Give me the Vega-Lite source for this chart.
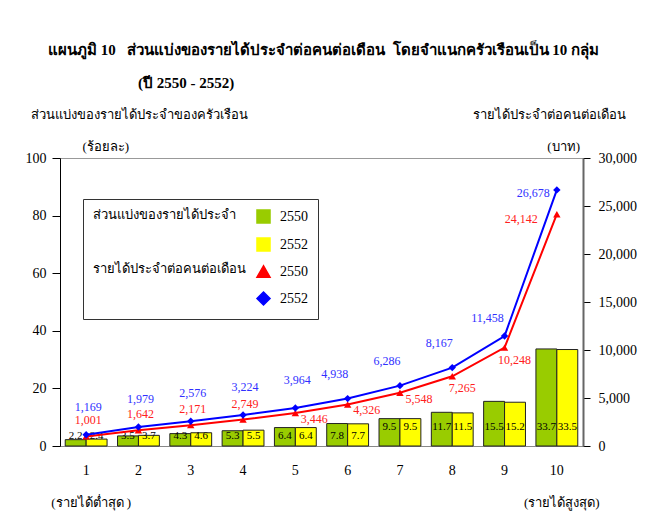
{
  "$schema": "https://vega.github.io/schema/vega-lite/v6.json",
  "autosize": {"type": "none"},
  "width": 523,
  "height": 288,
  "padding": {"left": 60, "top": 158, "right": 67, "bottom": 74},
  "background": "white",
  "config": {
    "font": "Liberation Serif",
    "view": {"stroke": "#999999", "strokeWidth": 1},
    "axis": {"labelFont": "Liberation Serif", "titleFont": "Liberation Serif", "labelColor": "black", "titleColor": "black", "labelFontSize": 14, "titleFontSize": 13, "titleFontWeight": "normal", "grid": false}
  },
  "title": {
    "text": ["แผนภูมิ 10\u00a0\u00a0\u00a0ส่วนแบ่งของรายได้ประจำต่อคนต่อเดือน\u00a0\u00a0โดยจำแนกครัวเรือนเป็น 10 กลุ่ม", "\u200b\u00a0\u00a0\u00a0\u00a0\u00a0\u00a0\u00a0\u00a0\u00a0\u00a0\u00a0\u00a0\u00a0\u00a0\u00a0\u00a0\u00a0\u00a0\u00a0\u00a0\u00a0\u00a0\u00a0\u00a0(ปี 2550 - 2552)"],
    "anchor": "start", "frame": "group", "dx": -12, "offset": 17,
    "font": "Liberation Serif", "fontSize": 15, "fontWeight": "bold", "lineHeight": 33, "color": "black"
  },
  "datasets": {
    "shares": [
      {"group": "1", "series": "s2550", "share": 2.2}, {"group": "1", "series": "s2552", "share": 2.4},
      {"group": "2", "series": "s2550", "share": 3.5}, {"group": "2", "series": "s2552", "share": 3.7},
      {"group": "3", "series": "s2550", "share": 4.3}, {"group": "3", "series": "s2552", "share": 4.6},
      {"group": "4", "series": "s2550", "share": 5.3}, {"group": "4", "series": "s2552", "share": 5.5},
      {"group": "5", "series": "s2550", "share": 6.4}, {"group": "5", "series": "s2552", "share": 6.4},
      {"group": "6", "series": "s2550", "share": 7.8}, {"group": "6", "series": "s2552", "share": 7.7},
      {"group": "7", "series": "s2550", "share": 9.5}, {"group": "7", "series": "s2552", "share": 9.5},
      {"group": "8", "series": "s2550", "share": 11.7}, {"group": "8", "series": "s2552", "share": 11.5},
      {"group": "9", "series": "s2550", "share": 15.5}, {"group": "9", "series": "s2552", "share": 15.2},
      {"group": "10", "series": "s2550", "share": 33.7}, {"group": "10", "series": "s2552", "share": 33.5}
    ],
    "incomes": [
      {"group": "1", "series": "i2550", "income": 1001}, {"group": "1", "series": "i2552", "income": 1169},
      {"group": "2", "series": "i2550", "income": 1642}, {"group": "2", "series": "i2552", "income": 1979},
      {"group": "3", "series": "i2550", "income": 2171}, {"group": "3", "series": "i2552", "income": 2576},
      {"group": "4", "series": "i2550", "income": 2749}, {"group": "4", "series": "i2552", "income": 3224},
      {"group": "5", "series": "i2550", "income": 3446}, {"group": "5", "series": "i2552", "income": 3964},
      {"group": "6", "series": "i2550", "income": 4326}, {"group": "6", "series": "i2552", "income": 4938},
      {"group": "7", "series": "i2550", "income": 5548}, {"group": "7", "series": "i2552", "income": 6286},
      {"group": "8", "series": "i2550", "income": 7265}, {"group": "8", "series": "i2552", "income": 8167},
      {"group": "9", "series": "i2550", "income": 10248}, {"group": "9", "series": "i2552", "income": 11458},
      {"group": "10", "series": "i2550", "income": 24142}, {"group": "10", "series": "i2552", "income": 26678}
    ],
    "notes": [
      {"group": "1", "note": "(รายได้ต่ำสุด )"},
      {"group": "10", "note": "(รายได้สูงสุด)"}
    ]
  },
  "layer": [
    {
      "layer": [
        {
          "data": {"name": "shares"},
          "mark": {"type": "bar", "stroke": "#222222", "strokeWidth": 1},
          "encoding": {
            "x": {"field": "group", "type": "nominal", "sort": null,
              "scale": {"domain": ["1","2","3","4","5","6","7","8","9","10"], "paddingInner": 0.2, "paddingOuter": 0.1},
              "axis": {"orient": "bottom", "title": null, "labelAngle": 0, "ticks": false, "domainColor": "#888888", "labelPadding": 17, "labelFontSize": 14}},
            "xOffset": {"field": "series", "type": "nominal", "scale": {"domain": ["s2550", "s2552"], "paddingInner": 0}},
            "y": {"field": "share", "type": "quantitative", "scale": {"domain": [0, 100]},
              "axis": {"orient": "left", "values": [0, 20, 40, 60, 80, 100], "format": ".0f", "domainColor": "black", "tickColor": "black", "tickSize": 8, "labelPadding": 6,
                "title": ["ส่วนแบ่งของรายได้ประจำของครัวเรือน", "\u200b\u00a0\u00a0\u00a0\u00a0\u00a0\u00a0\u00a0\u00a0\u00a0\u00a0\u00a0\u00a0\u00a0\u00a0\u00a0\u00a0(ร้อยละ)"],
                "titleAngle": 0, "titleAlign": "left", "titleX": -30, "titleY": -40, "titleLineHeight": 32, "titleBaseline": "alphabetic"}},
            "color": {"field": "series", "type": "nominal",
              "scale": {"domain": ["s2550", "s2552", "i2550", "i2552"], "range": ["#99CC00", "#FFFF00", "#FF0000", "#0000FF"]},
              "legend": {
                "orient": "none", "legendX": 23, "legendY": 41, "direction": "vertical",
                "title": ["ส่วนแบ่งของรายได้ประจำ", "รายได้ประจำต่อคนต่อเดือน"],
                "titleOrient": "left", "titleAnchor": "start", "titleFont": "Liberation Serif", "titleFontSize": 13, "titleFontWeight": "normal", "titleColor": "black",
                "titleLineHeight": 54, "titlePadding": 10, "titleBaseline": "top",
                "labelExpr": "slice(datum.label, 1)", "labelFont": "Liberation Serif", "labelFontSize": 14, "labelColor": "black", "labelOffset": 9,
                "symbolSize": 170, "symbolStrokeWidth": 1.5, "rowPadding": 7, "strokeColor": "#333333", "fillColor": "white", "padding": 10
              }}
          }
        },
        {
          "data": {"name": "shares"},
          "transform": [{"filter": {"field": "group", "oneOf": ["1", "2", "3", "4", "5", "6"]}}],
          "mark": {"type": "text", "fontSize": 11, "color": "black"},
          "encoding": {
            "x": {"field": "group", "type": "nominal", "sort": null},
            "xOffset": {"field": "series", "type": "nominal"},
            "y": {"datum": 3.3},
            "text": {"field": "share", "type": "quantitative", "format": ".1f"}
          }
        },
        {
          "data": {"name": "shares"},
          "transform": [{"filter": {"field": "group", "oneOf": ["7", "8", "9", "10"]}}],
          "mark": {"type": "text", "fontSize": 11, "color": "black"},
          "encoding": {
            "x": {"field": "group", "type": "nominal", "sort": null},
            "xOffset": {"field": "series", "type": "nominal"},
            "y": {"datum": 6.5},
            "text": {"field": "share", "type": "quantitative", "format": ".1f"}
          }
        },
        {
          "data": {"name": "notes"},
          "mark": {"type": "text", "fontSize": 13, "color": "black", "dx": 5, "dy": 2},
          "encoding": {
            "x": {"field": "group", "type": "nominal", "sort": null},
            "y": {"datum": -19},
            "text": {"field": "note", "type": "nominal"}
          }
        }
      ]
    },
    {
      "layer": [
        {
          "data": {"name": "incomes"},
          "mark": {"type": "line", "strokeWidth": 2},
          "encoding": {
            "x": {"field": "group", "type": "nominal", "sort": null},
            "y": {"field": "income", "type": "quantitative", "scale": {"domain": [0, 30000]},
              "axis": {"orient": "right", "values": [0, 5000, 10000, 15000, 20000, 25000, 30000], "format": ",.0f", "domainColor": "#666666", "domainWidth": 2, "tickColor": "black", "tickSize": 7, "labelPadding": 8,
                "title": ["รายได้ประจำต่อคนต่อเดือน", "(บาท)\u00a0\u00a0\u00a0\u00a0\u00a0\u00a0\u00a0\u00a0\u00a0\u00a0\u00a0\u00a0\u00a0\u00a0\u200b"],
                "titleAngle": 0, "titleAlign": "right", "titleX": 42, "titleY": -40, "titleLineHeight": 32, "titleBaseline": "alphabetic"}},
            "color": {"field": "series", "type": "nominal"}
          }
        },
        {
          "data": {"name": "incomes"},
          "mark": {"type": "point", "filled": true, "size": 55, "opacity": 1},
          "encoding": {
            "x": {"field": "group", "type": "nominal", "sort": null},
            "y": {"field": "income", "type": "quantitative"},
            "color": {"field": "series", "type": "nominal"},
            "shape": {"field": "series", "type": "nominal", "scale": {"domain": ["s2550", "s2552", "i2550", "i2552"], "range": ["square", "square", "triangle-up", "diamond"]}}
          }
        },
        {
          "data": {"name": "incomes"},
          "transform": [{"filter": "datum.series === 'i2550' && indexof(['1','2','3','4'], datum.group) >= 0"}],
          "mark": {"type": "text", "fontSize": 12, "color": "#FF2020", "dx": 2, "dy": -16},
          "encoding": {"x": {"field": "group", "type": "nominal", "sort": null}, "y": {"field": "income", "type": "quantitative"}, "text": {"field": "income", "type": "quantitative", "format": ","}}
        },
        {
          "data": {"name": "incomes"},
          "transform": [{"filter": "datum.series === 'i2550' && indexof(['5','6','7'], datum.group) >= 0"}],
          "mark": {"type": "text", "fontSize": 12, "color": "#FF2020", "dx": 19, "dy": 6},
          "encoding": {"x": {"field": "group", "type": "nominal", "sort": null}, "y": {"field": "income", "type": "quantitative"}, "text": {"field": "income", "type": "quantitative", "format": ","}}
        },
        {
          "data": {"name": "incomes"},
          "transform": [{"filter": "datum.series === 'i2550' && indexof(['8','9'], datum.group) >= 0"}],
          "mark": {"type": "text", "fontSize": 12, "color": "#FF2020", "dx": 10, "dy": 12},
          "encoding": {"x": {"field": "group", "type": "nominal", "sort": null}, "y": {"field": "income", "type": "quantitative"}, "text": {"field": "income", "type": "quantitative", "format": ","}}
        },
        {
          "data": {"name": "incomes"},
          "transform": [{"filter": "datum.series === 'i2550' && datum.group === '10'"}],
          "mark": {"type": "text", "fontSize": 12, "color": "#FF2020", "align": "right", "dx": -19, "dy": 5},
          "encoding": {"x": {"field": "group", "type": "nominal", "sort": null}, "y": {"field": "income", "type": "quantitative"}, "text": {"field": "income", "type": "quantitative", "format": ","}}
        },
        {
          "data": {"name": "incomes"},
          "transform": [{"filter": "datum.series === 'i2552' && indexof(['1','2','3','4','5'], datum.group) >= 0"}],
          "mark": {"type": "text", "fontSize": 12, "color": "#3030FF", "dx": 2, "dy": -28},
          "encoding": {"x": {"field": "group", "type": "nominal", "sort": null}, "y": {"field": "income", "type": "quantitative"}, "text": {"field": "income", "type": "quantitative", "format": ","}}
        },
        {
          "data": {"name": "incomes"},
          "transform": [{"filter": "datum.series === 'i2552' && indexof(['6','7','8'], datum.group) >= 0"}],
          "mark": {"type": "text", "fontSize": 12, "color": "#3030FF", "dx": -13, "dy": -25},
          "encoding": {"x": {"field": "group", "type": "nominal", "sort": null}, "y": {"field": "income", "type": "quantitative"}, "text": {"field": "income", "type": "quantitative", "format": ","}}
        },
        {
          "data": {"name": "incomes"},
          "transform": [{"filter": "datum.series === 'i2552' && datum.group === '9'"}],
          "mark": {"type": "text", "fontSize": 12, "color": "#3030FF", "dx": -17, "dy": -18},
          "encoding": {"x": {"field": "group", "type": "nominal", "sort": null}, "y": {"field": "income", "type": "quantitative"}, "text": {"field": "income", "type": "quantitative", "format": ","}}
        },
        {
          "data": {"name": "incomes"},
          "transform": [{"filter": "datum.series === 'i2552' && datum.group === '10'"}],
          "mark": {"type": "text", "fontSize": 12, "color": "#3030FF", "align": "right", "dx": -7, "dy": 3},
          "encoding": {"x": {"field": "group", "type": "nominal", "sort": null}, "y": {"field": "income", "type": "quantitative"}, "text": {"field": "income", "type": "quantitative", "format": ","}}
        }
      ]
    }
  ],
  "resolve": {"scale": {"y": "independent"}}
}
